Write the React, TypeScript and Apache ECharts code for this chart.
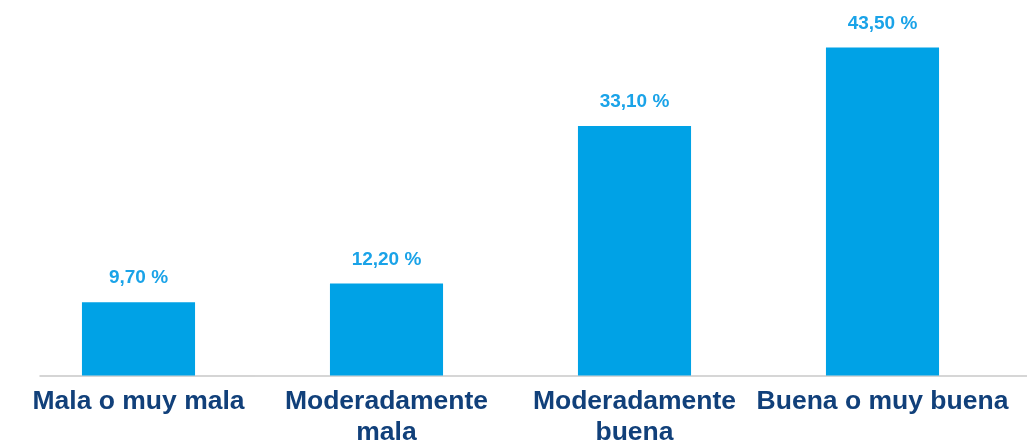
import React, { useEffect, useRef } from "react";
import * as echarts from "echarts";

const categories = ["Mala o muy mala", "Moderadamente\nmala", "Moderadamente\nbuena", "Buena o muy buena"];
const values = [9.7, 12.2, 33.1, 43.5];

export default function App() {
  const ref = useRef<HTMLDivElement>(null);
  useEffect(() => {
    const chart = echarts.init(ref.current!, null, { renderer: "svg" });
    chart.setOption({
      animation: false,
      grid: [
        { left: 14.5, right: 20.5, top: 47.5, bottom: 69.5, containLabel: false, outerBoundsMode: "none" },
        { left: 40, right: 0, top: 47.5, bottom: 69.5, containLabel: false, outerBoundsMode: "none" },
      ],
      xAxis: [
        {
          type: "category",
          data: categories,
          gridIndex: 0,
          axisLine: { show: false },
          axisTick: { show: false },
          axisLabel: {
            interval: 0,
            margin: 9,
            fontFamily: "Liberation Sans, Arial, sans-serif",
            fontSize: 26.5,
            fontWeight: "bold",
            lineHeight: 31,
            color: "#11407a",
          },
        },
        {
          type: "value",
          gridIndex: 1,
          min: 0,
          max: 1,
          axisLine: { show: true, lineStyle: { color: "#c8c8c8", width: 1.5 } },
          axisTick: { show: false },
          axisLabel: { show: false },
          splitLine: { show: false },
          z: 0,
        },
      ],
      yAxis: [
        { type: "value", gridIndex: 0, min: 0, max: 43.5, show: false, splitLine: { show: false } },
        { type: "value", gridIndex: 1, min: 0, max: 1, show: false, splitLine: { show: false } },
      ],
      series: [
        {
          type: "bar",
          data: values,
          xAxisIndex: 0,
          yAxisIndex: 0,
          barWidth: "45.6%",
          z: 3,
          itemStyle: { color: "#00a2e6" },
          label: {
            show: true,
            position: "top",
            distance: 16,
            fontFamily: "Liberation Sans, Arial, sans-serif",
            fontSize: 19,
            fontWeight: "bold",
            color: "#1aa3e8",
            formatter: (p: any) => p.value.toFixed(2).replace(".", ",") + " %",
          },
        },
      ],
    });
    return () => chart.dispose();
  }, []);
  return <div ref={ref} style={{ position: "fixed", left: 0, top: 0, width: 1027, height: 445 }} />;
}
